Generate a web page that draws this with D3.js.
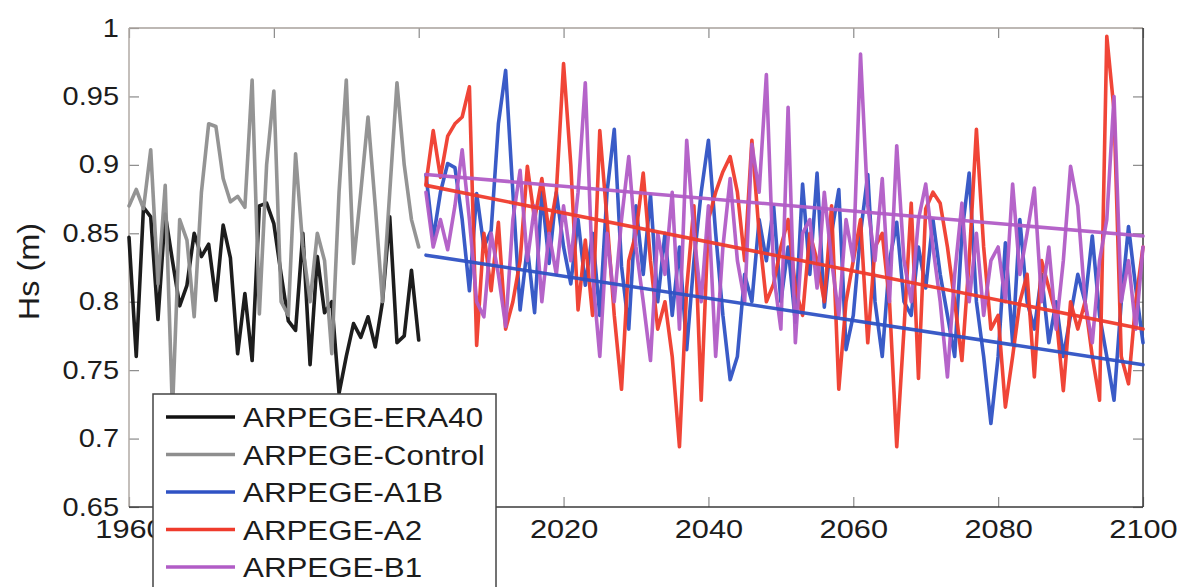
<!DOCTYPE html>
<html>
<head>
<meta charset="utf-8">
<script src="https://cdn.jsdelivr.net/npm/d3@7"></script>
<style>
  body { margin: 0; background: #fff; }
  svg { display: block; }
  text { font-family: "Liberation Sans", Arial, Helvetica, sans-serif; fill: #1c1c1c; }
</style>
</head>
<body>
<svg id="chart" width="1180" height="587"></svg>
<script>
// Annual mean significant wave height (m), hindcast / control period
const histYears = d3.range(1960, 2001);
const era40 = [
  0.847, 0.760, 0.869, 0.862, 0.787, 0.864, 0.830, 0.797, 0.812, 0.850,
  0.833, 0.842, 0.801, 0.856, 0.832, 0.762, 0.806, 0.757, 0.870, 0.872,
  0.857, 0.820, 0.786, 0.779, 0.850, 0.754, 0.833, 0.792, 0.800, 0.733,
  0.760, 0.784, 0.774, 0.789, 0.767, 0.800, 0.862, 0.770, 0.775, 0.823,
  0.772
];
const control = [
  0.870, 0.882, 0.868, 0.911, 0.813, 0.885, 0.720, 0.860, 0.845, 0.789,
  0.880, 0.930, 0.928, 0.890, 0.873, 0.877, 0.869, 0.962, 0.791, 0.900,
  0.954, 0.800, 0.790, 0.908, 0.840, 0.800, 0.850, 0.830, 0.762, 0.880,
  0.962, 0.828, 0.880, 0.935, 0.870, 0.800, 0.880, 0.960, 0.900, 0.860,
  0.840
];

// Scenario projections
const futYears = d3.range(2001, 2101);
const a1b = [
  0.893, 0.846, 0.880, 0.901, 0.898, 0.860, 0.808, 0.879, 0.840, 0.852,
  0.930, 0.969, 0.880, 0.794, 0.840, 0.792, 0.880, 0.828, 0.880, 0.840,
  0.813, 0.860, 0.812, 0.850, 0.790, 0.880, 0.926, 0.826, 0.780, 0.870,
  0.820, 0.878, 0.800, 0.850, 0.790, 0.840, 0.765, 0.830, 0.880, 0.918,
  0.850, 0.790, 0.743, 0.760, 0.820, 0.800, 0.860, 0.830, 0.870, 0.800,
  0.840, 0.785, 0.886, 0.820, 0.894, 0.796, 0.850, 0.882, 0.765, 0.790,
  0.850, 0.893, 0.800, 0.760, 0.830, 0.858, 0.800, 0.790, 0.840, 0.810,
  0.860, 0.820, 0.790, 0.760, 0.850, 0.894, 0.800, 0.760, 0.711, 0.760,
  0.843, 0.770, 0.860, 0.800, 0.780, 0.820, 0.770, 0.800, 0.760, 0.790,
  0.820, 0.800, 0.848, 0.790, 0.760, 0.728, 0.800, 0.855, 0.810, 0.770
];
const a2 = [
  0.886, 0.925, 0.891, 0.921, 0.930, 0.935, 0.957, 0.768, 0.850, 0.808,
  0.858, 0.780, 0.800, 0.830, 0.899, 0.860, 0.890, 0.850, 0.880, 0.974,
  0.900, 0.794, 0.845, 0.790, 0.925, 0.860, 0.790, 0.736, 0.830, 0.850,
  0.894, 0.830, 0.780, 0.800, 0.760, 0.694, 0.810, 0.870, 0.728, 0.860,
  0.880, 0.895, 0.906, 0.880, 0.830, 0.918, 0.850, 0.800, 0.813, 0.840,
  0.860, 0.810, 0.790, 0.850, 0.830, 0.800, 0.870, 0.736, 0.800, 0.830,
  0.860, 0.770, 0.840, 0.850, 0.800, 0.694, 0.780, 0.872, 0.744, 0.868,
  0.880, 0.872, 0.840, 0.800, 0.757, 0.830, 0.926, 0.840, 0.780, 0.790,
  0.723, 0.760, 0.800, 0.820, 0.745, 0.830, 0.810, 0.790, 0.735, 0.800,
  0.780, 0.800, 0.760, 0.728, 0.994, 0.940, 0.760, 0.740, 0.800, 0.840
];
const b1 = [
  0.880, 0.840, 0.860, 0.838, 0.870, 0.911, 0.860, 0.800, 0.789, 0.850,
  0.820, 0.782, 0.860, 0.896, 0.830, 0.870, 0.800, 0.850, 0.820, 0.870,
  0.830, 0.880, 0.960, 0.820, 0.760, 0.850, 0.800, 0.860, 0.906, 0.840,
  0.800, 0.757, 0.850, 0.820, 0.880, 0.780, 0.918, 0.850, 0.800, 0.870,
  0.760, 0.840, 0.890, 0.830, 0.800, 0.915, 0.880, 0.966, 0.820, 0.780,
  0.942, 0.770, 0.850, 0.860, 0.810, 0.880, 0.830, 0.790, 0.860, 0.830,
  0.981, 0.870, 0.830, 0.890, 0.800, 0.914, 0.830, 0.800, 0.860, 0.886,
  0.840, 0.800, 0.745, 0.820, 0.872, 0.800, 0.850, 0.790, 0.830, 0.840,
  0.800, 0.886, 0.820, 0.850, 0.883, 0.800, 0.840, 0.780, 0.830, 0.899,
  0.870, 0.800, 0.770, 0.830, 0.860, 0.950, 0.800, 0.830, 0.780, 0.840
];

// Linear trends of the scenario runs (start / end values)
const trendYears = [2001, 2100];
const trendA1B = [0.834, 0.754];
const trendA2  = [0.885, 0.780];
const trendB1  = [0.893, 0.848];

const seriesNames  = ["ARPEGE-ERA40", "ARPEGE-Control", "ARPEGE-A1B", "ARPEGE-A2", "ARPEGE-B1"];
const seriesColors = ["#111111", "#8e8e8e", "#2f52c4", "#ef3b2c", "#b15cc6"];

const xTicks = [1960, 1980, 2000, 2020, 2040, 2060, 2080, 2100];
// 1980 and 2000 sit underneath the legend box
const xTickLabels = ["1960", "", "", "2020", "2040", "2060", "2080", "2100"];
const yTicks = [0.65, 0.7, 0.75, 0.8, 0.85, 0.9, 0.95, 1];
const yTickLabels = ["0.65", "0.7", "0.75", "0.8", "0.85", "0.9", "0.95", "1"];
const yAxisTitle = "Hs (m)";

// ---- layout ----
const plot = { left: 129, right: 1143, top: 28, bottom: 507 };
const stretch = 1.16;

const svg = d3.select("#chart");
const x = d3.scaleLinear().domain([1960, 2100]).range([plot.left, plot.right]);
const y = d3.scaleLinear().domain([0.65, 1]).range([plot.bottom, plot.top]);

svg.append("rect").attr("width", 1180).attr("height", 587).attr("fill", "#fff");

// widen glyphs along their baseline around their anchor
function widen(sel) {
  sel.each(function () {
    const t = d3.select(this);
    const tx = +t.attr("x") || 0;
    t.attr("transform", `translate(${tx},0) scale(${stretch},1) translate(${-tx},0)`);
  });
}

// ---- axes ----
const tickLen = 10;
const gBottom = svg.append("g").attr("transform", `translate(0,${plot.bottom})`)
  .call(d3.axisBottom(x).tickValues(xTicks).tickFormat((d, i) => xTickLabels[i])
    .tickSizeInner(-tickLen).tickSizeOuter(0).tickPadding(12));
const gTop = svg.append("g").attr("transform", `translate(0,${plot.top})`)
  .call(d3.axisTop(x).tickValues(xTicks).tickFormat("")
    .tickSizeInner(-tickLen).tickSizeOuter(0));
const gLeft = svg.append("g").attr("transform", `translate(${plot.left},0)`)
  .call(d3.axisLeft(y).tickValues(yTicks).tickFormat((d, i) => yTickLabels[i])
    .tickSizeInner(-tickLen).tickSizeOuter(0).tickPadding(10));
const gRight = svg.append("g").attr("transform", `translate(${plot.right},0)`)
  .call(d3.axisRight(y).tickValues(yTicks).tickFormat("")
    .tickSizeInner(-tickLen).tickSizeOuter(0));

[gBottom, gTop, gLeft, gRight].forEach(g => {
  g.select(".domain").remove();
  g.selectAll(".tick line").attr("stroke", "#8a8a8a").attr("stroke-width", 1.2);
});
gBottom.selectAll("text").attr("font-size", 26.5).attr("fill", "#1c1c1c")
  .attr("font-family", "Liberation Sans, Arial, sans-serif")
  .attr("transform", `scale(${stretch},1)`);
gLeft.selectAll("text").attr("font-size", 25).attr("fill", "#1c1c1c")
  .attr("font-family", "Liberation Sans, Arial, sans-serif")
  .call(widen);

// plot frame
svg.append("line").attr("x1", plot.left).attr("x2", plot.right).attr("y1", plot.top).attr("y2", plot.top)
  .attr("stroke", "#a7a19b").attr("stroke-width", 1.5);
svg.append("line").attr("x1", plot.left).attr("x2", plot.left).attr("y1", plot.top).attr("y2", plot.bottom)
  .attr("stroke", "#b0aaa5").attr("stroke-width", 1.5);
svg.append("line").attr("x1", plot.left).attr("x2", plot.right).attr("y1", plot.bottom).attr("y2", plot.bottom)
  .attr("stroke", "#3a3a3a").attr("stroke-width", 1.5);
svg.append("line").attr("x1", plot.right).attr("x2", plot.right).attr("y1", plot.top).attr("y2", plot.bottom)
  .attr("stroke", "#3a3a3a").attr("stroke-width", 1.5);

// y-axis title
svg.append("text")
  .attr("transform", `translate(39,${(plot.top + plot.bottom) / 2 + 4}) rotate(-90) scale(1.12,1)`)
  .attr("text-anchor", "middle")
  .attr("font-size", 29)
  .text(yAxisTitle);

// ---- series ----
const line = d3.line().x(d => x(d[0])).y(d => y(d[1])).curve(d3.curveLinear);
const zip = (xs, ys) => xs.map((v, i) => [v, ys[i]]);

const plotSeries = [
  { data: zip(histYears, era40),  color: seriesColors[0] },
  { data: zip(histYears, control), color: seriesColors[1] },
  { data: zip(futYears, a1b),     color: seriesColors[2] },
  { data: zip(futYears, a2),      color: seriesColors[3] },
  { data: zip(futYears, b1),      color: seriesColors[4] },
  { data: zip(trendYears, trendA1B), color: seriesColors[2] },
  { data: zip(trendYears, trendA2),  color: seriesColors[3] },
  { data: zip(trendYears, trendB1),  color: seriesColors[4] }
];

const gLines = svg.append("g");
plotSeries.forEach(s => {
  gLines.append("path")
    .attr("d", line(s.data))
    .attr("fill", "none")
    .attr("stroke", s.color)
    .attr("stroke-width", 3.6)
    .attr("stroke-linejoin", "round")
    .attr("stroke-linecap", "round")
    .attr("stroke-opacity", 0.95);
});

// ---- legend ----
const legend = { left: 153, top: 394, right: 496, rowStart: 417, rowStep: 37.5 };
const gLeg = svg.append("g");
gLeg.append("rect")
  .attr("x", legend.left).attr("y", legend.top)
  .attr("width", legend.right - legend.left).attr("height", 250)
  .attr("fill", "#fff").attr("stroke", "#444").attr("stroke-width", 1.5);
seriesNames.forEach((name, i) => {
  const cy = legend.rowStart + i * legend.rowStep;
  gLeg.append("line")
    .attr("x1", 166).attr("x2", 235).attr("y1", cy).attr("y2", cy)
    .attr("stroke", seriesColors[i]).attr("stroke-width", 3.6);
  gLeg.append("text")
    .attr("transform", `translate(243,${cy + 10}) scale(1.16,1)`)
    .attr("font-size", 27)
    .text(name);
});
</script>
</body>
</html>
